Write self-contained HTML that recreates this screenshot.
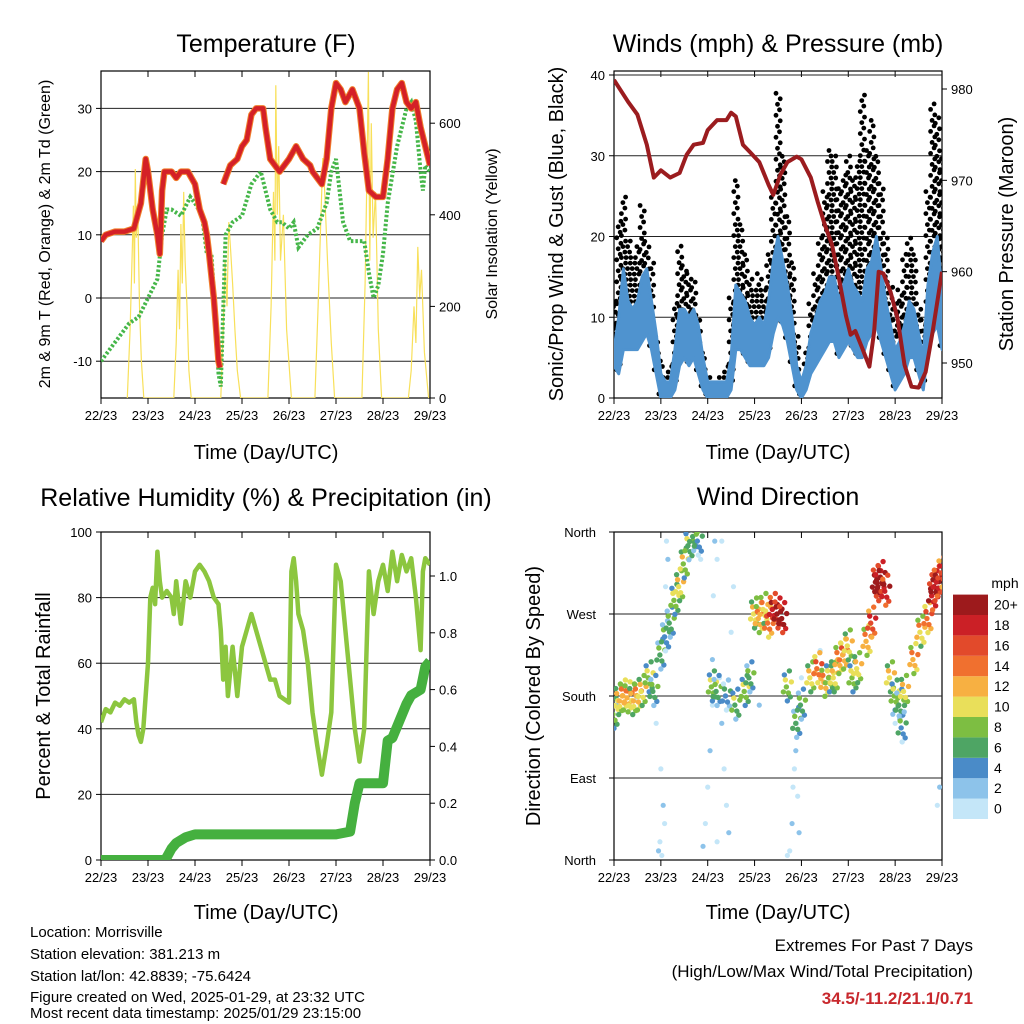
<!DOCTYPE html>
<html><head><meta charset="utf-8"><style>
body{margin:0;background:#fff;}
svg{display:block;font-family:"Liberation Sans",sans-serif;}
</style></head><body>
<svg id="chart" width="1024" height="1024" viewBox="0 0 1024 1024" xmlns="http://www.w3.org/2000/svg">
<defs>
<clipPath id="c1"><rect x="101" y="71" width="329" height="327"/></clipPath>
<clipPath id="c2"><rect x="614" y="71" width="328" height="327"/></clipPath>
<clipPath id="c3"><rect x="101" y="532" width="329" height="328"/></clipPath>
<clipPath id="c4"><rect x="614" y="532" width="328" height="328"/></clipPath>
</defs>
<g id="root"></g>
<g font-size="25" text-anchor="middle" fill="#000">
<text x="266" y="52">Temperature (F)</text>
<text x="778" y="52">Winds (mph) &amp; Pressure (mb)</text>
<text x="266" y="506">Relative Humidity (%) &amp; Precipitation (in)</text>
<text x="778" y="505">Wind Direction</text>
</g>
<g font-size="20" text-anchor="middle">
<text x="266" y="459">Time (Day/UTC)</text>
<text x="778" y="459">Time (Day/UTC)</text>
<text x="266" y="919">Time (Day/UTC)</text>
<text x="778" y="919">Time (Day/UTC)</text>
<text transform="translate(563,234) rotate(-90)">Sonic/Prop Wind &amp; Gust (Blue, Black)</text>
<text transform="translate(1013,234) rotate(-90)">Station Pressure (Maroon)</text>
<text transform="translate(50,696) rotate(-90)">Percent &amp; Total Rainfall</text>
<text transform="translate(540,696) rotate(-90)">Direction (Colored By Speed)</text>
</g>
<g font-size="16" text-anchor="middle">
<text transform="translate(50,234) rotate(-90)">2m &amp; 9m T (Red, Orange) &amp; 2m Td (Green)</text>
<text transform="translate(497,234) rotate(-90)">Solar Insolation (Yellow)</text>
</g>
<g font-size="15">
<text x="30" y="937">Location: Morrisville</text>
<text x="30" y="959">Station elevation: 381.213 m</text>
<text x="30" y="981">Station lat/lon: 42.8839; -75.6424</text>
<text x="30" y="1002">Figure created on Wed, 2025-01-29, at 23:32 UTC</text>
<text x="30" y="1018">Most recent data timestamp: 2025/01/29 23:15:00</text>
</g>
<g text-anchor="end">
<text x="973" y="951" font-size="17">Extremes For Past 7 Days</text>
<text x="973" y="977" font-size="17">(High/Low/Max Wind/Total Precipitation)</text>
<text x="973" y="1004" font-size="17" font-weight="bold" fill="#c8282d">34.5/-11.2/21.1/0.71</text>
</g>
</svg>
<script>
// ---------- Data ----------
const dayLabels = ["22/23","23/23","24/23","25/23","26/23","27/23","28/23","29/23"];
const tempT = [0,0.1,0.3,0.5,0.7,0.85,0.95,1.0,1.1,1.2,1.25,1.3,1.35,1.5,1.6,1.7,1.85,2.0,2.1,2.2,2.25,2.3,2.4,2.45,2.5,2.53];
const tempV = [9,10,10.5,10.5,11,15,22,20,14,10,7,17,20,20,19,20,20,18,14,12,10,7,0,-5,-10,-11];
const tempT2 = [2.6,2.75,2.9,3.0,3.1,3.2,3.3,3.45,3.5,3.6,3.8,4.0,4.15,4.3,4.45,4.5,4.6,4.7,4.8,4.9,5.0,5.1,5.2,5.35,5.5,5.6,5.7,5.85,6.0,6.1,6.2,6.3,6.4,6.5,6.6,6.7,6.8,6.9,7.0];
const tempV2 = [18,21,22,24,25,29,30,30,27,22,20,22,24,22,21,20,19,18,22,30,34,33,31,33,30,23,17,16,16,22,30,33,34,31,30,31,27,24,21];
const dewT = [0,0.3,0.6,0.8,1.0,1.2,1.3,1.4,1.5,1.7,1.9,2.0,2.15,2.25,2.35,2.45,2.5,2.55,2.65,2.8,3.0,3.2,3.4,3.6,3.75,3.85,4.0,4.1,4.2,4.4,4.6,4.8,4.9,5.0,5.15,5.3,5.45,5.6,5.7,5.8,5.9,6.0,6.1,6.3,6.5,6.6,6.7,6.8,6.85,6.9,7.0];
const dewV = [-10,-7,-4,-3,0,3,10,14,14,13,16,15,13,7,7,-5,-12,-14,10,12,13,18,20,14,12,12,11,12,8,10,11,15,20,22,12,9,9,9,4,0,2,7,15,24,30,31,28,20,17,21,20];
const solarT = [0.56,0.62,0.66,0.69,0.71,0.73,0.75,0.78,0.82,0.86,0.91, 1.55,1.6,1.64,1.67,1.7,1.73,1.76,1.79,1.83,1.87,1.92, 2.55,2.6,2.64,2.68,2.72,2.76,2.8,2.85,2.9,2.97, 3.55,3.62,3.67,3.7,3.72,3.75,3.78,3.82,3.88,3.95,4.05, 4.55,4.62,4.68,4.72,4.76,4.82,4.9,4.97, 5.55,5.62,5.66,5.69,5.72,5.75,5.79,5.84,5.9,5.97, 6.54,6.6,6.66,6.7,6.74,6.78,6.82,6.88,6.97];
const solarV = [0,150,300,420,250,500,350,420,200,80,0, 0,120,280,150,380,250,450,300,200,60,0, 0,150,300,200,384,320,250,150,60,0, 0,200,450,300,683,400,550,300,400,150,0, 0,200,400,524,450,300,120,0, 0,250,500,712,300,600,350,450,150,0, 0,60,200,120,330,220,280,100,0];
const windT = [0,0.1,0.2,0.3,0.4,0.5,0.6,0.7,0.8,0.9,1.0,1.1,1.2,1.3,1.4,1.5,1.6,1.7,1.8,1.9,2.0,2.1,2.2,2.3,2.4,2.5,2.6,2.7,2.8,2.9,3.0,3.1,3.2,3.3,3.4,3.5,3.6,3.7,3.8,3.9,4.0,4.1,4.2,4.3,4.4,4.5,4.6,4.7,4.8,4.9,5.0,5.1,5.2,5.3,5.4,5.5,5.6,5.7,5.8,5.9,6.0,6.1,6.2,6.3,6.4,6.5,6.6,6.7,6.8,6.9,7.0];
const windHigh = [6,10,16,12,11,12,15,16,12,8,3,2,2,6,11,11,10,11,9,5,2,2,2,2,2,5,14,13,12,10,9,10,9,12,17,20,17,14,10,4,2,4,8,10,12,13,15,15,12,14,16,14,13,12,16,17,20,16,12,9,6,7,9,12,11,8,5,14,18,20,13];
const windLow = [4,3,6,6,6,6,7,8,6,3,0,0,0,1,4,5,4,5,3,1,0,0,0,0,0,1,6,6,5,4,4,4,4,5,8,10,9,7,4,1,0,1,3,4,5,6,7,7,5,6,7,6,5,5,7,8,9,7,5,3,1,2,3,5,5,3,1,6,8,9,6];
const gustMax = [12,22,25,20,18,19,24,20,17,8,5,3,4,12,19,17,16,15,10,6,3,2,3,3,4,13,27,22,18,15,14,16,14,18,25,38,30,23,17,8,3,6,12,16,20,26,31,30,26,28,30,27,30,38,31,35,30,27,20,14,12,14,18,20,18,12,10,26,37,35,30];
const presT = [0,0.3,0.5,0.7,0.85,1.0,1.2,1.4,1.55,1.7,1.9,2.0,2.2,2.4,2.5,2.6,2.75,2.9,3.1,3.3,3.4,3.55,3.7,3.9,4.0,4.2,4.35,4.5,4.65,4.8,4.95,5.05,5.15,5.3,5.45,5.55,5.65,5.75,5.9,6.05,6.2,6.35,6.5,6.65,6.8,7.0];
const presV = [981,978.6,977.2,973.9,970.3,971.1,970.3,970.8,972.8,973.9,974.1,975.5,976.6,976.6,977.4,977,973.9,973.1,972,969.5,968.4,970.6,972,972.6,972.3,970.3,967.6,965.1,963,959.3,955.2,953.1,953.5,951.6,949.6,953.4,960,959.8,957.8,954.9,949.8,947.4,947.3,949,953.4,960];
const rhT = [0,0.1,0.2,0.3,0.4,0.5,0.6,0.7,0.75,0.8,0.85,0.9,1.0,1.05,1.1,1.15,1.2,1.25,1.3,1.4,1.5,1.55,1.6,1.7,1.8,1.9,2.0,2.1,2.2,2.3,2.4,2.5,2.55,2.6,2.65,2.7,2.8,2.9,3.0,3.1,3.2,3.3,3.4,3.5,3.6,3.7,3.8,4.0,4.05,4.1,4.15,4.2,4.3,4.4,4.5,4.6,4.7,4.8,4.9,5.0,5.1,5.2,5.3,5.4,5.5,5.6,5.7,5.8,5.9,6.0,6.1,6.2,6.3,6.4,6.5,6.6,6.7,6.8,6.85,6.9,7.0];
const rhV = [42,46,45,48,47,49,48,49,42,38,36,40,60,80,83,78,94,85,80,82,80,75,85,72,85,80,88,90,88,85,80,78,70,55,65,50,65,50,65,70,75,70,65,60,55,55,50,48,88,92,85,75,70,60,45,35,26,35,45,90,85,70,55,40,30,40,88,75,85,90,82,94,85,93,88,92,80,64,88,92,90];
const precipT = [0,1.35,1.4,1.5,1.6,1.8,2.0,3.0,4.0,5.0,5.3,5.4,5.5,6.0,6.1,6.2,6.3,6.5,6.6,6.8,6.9,7.0];
const precipV = [0,0,0.01,0.04,0.06,0.08,0.09,0.09,0.09,0.09,0.10,0.2,0.27,0.27,0.42,0.43,0.47,0.55,0.58,0.60,0.68,0.70];
const dirT = [0,0.1,0.2,0.3,0.4,0.5,0.6,0.75,0.85,1.0,1.1,1.2,1.3,1.4,1.5,1.6,1.7,1.8,2.1,2.2,2.4,2.6,2.8,2.9,3.0,3.1,3.2,3.3,3.4,3.5,3.6,3.7,3.9,4.0,4.2,4.35,4.5,4.6,4.7,4.8,4.9,5.0,5.1,5.2,5.4,5.5,5.6,5.65,5.7,5.8,5.9,6.0,6.1,6.15,6.2,6.4,6.55,6.7,6.8,6.85,6.9,7.0];
const dirV = [160,175,180,178,175,180,185,200,185,225,245,260,285,300,325,345,355,350,190,185,180,170,185,200,270,265,275,260,275,270,265,190,150,170,200,210,195,200,200,220,225,235,200,210,240,260,305,300,310,295,200,180,170,145,185,220,250,265,290,300,305,315];
const dirS = [8,10,12,12,10,12,10,8,6,6,5,6,8,10,9,7,6,5,8,6,4,7,8,6,10,12,11,14,18,20,20,8,6,6,10,14,12,8,10,12,13,10,8,10,12,16,20,21,20,18,10,8,6,5,10,12,11,14,19,20,18,16];
const calmT = [0.05,0.45,0.9,0.95,0.98,1.02,1.05,1.1,1.12,1.15,1.18,1.85,1.9,1.95,2.0,2.05,2.1,2.12,2.15,2.2,2.25,2.3,2.35,2.4,2.45,2.5,2.55,3.1,3.7,3.75,3.8,3.82,3.85,3.88,3.9,3.92,3.95,4.0,4.4,5.95,6.0,6.9,6.95,1.0,1.08,2.1,2.2,2.3];
const calmD = [170,175,150,10,20,5,60,300,350,330,250,330,15,40,80,120,170,290,350,330,200,150,100,60,30,250,300,170,5,10,40,80,100,120,150,70,30,200,230,160,150,60,80,100,40,220,20,350];
const cbLabels = ["0","2","4","6","8","10","12","14","16","18","20+"];
const cbColors = ["#c4e6f8","#8dc3ea","#4a8bc8","#4ea564","#7dbe42","#e9df5a","#f7b042","#f0702f","#e24a2b","#cb2026","#9d1a1c"];

// ---------- helpers ----------
const NS="http://www.w3.org/2000/svg";
const root=document.getElementById('root');
function mk(tag,attrs,name,parent){
  const el=document.createElementNS(NS,tag);
  for(const k in attrs) el.setAttribute(k,attrs[k]);
  
  
  (parent||root).appendChild(el);
  return el;
}
function txt(x,y,s,name,attrs,parent){
  const t=mk('text',Object.assign({x:x,y:y,'font-size':13},attrs||{}),name,parent);
  t.textContent=s; return t;
}
function xScale(x0,x1){return d=>x0+d*(x1-x0)/7;}
function pathOf(ts,vs,xf,yf){return ts.map((t,i)=>(i?'L':'M')+xf(t).toFixed(1)+','+yf(vs[i]).toFixed(1)).join('');}

function frame(x0,y0,x1,y1,name,xf){
  const g=mk('g',{},name+'-axes');
  mk('rect',{x:x0,y:y0,width:x1-x0,height:y1-y0,fill:'none',stroke:'#000','stroke-width':1.2},name+'-frame',g);
  dayLabels.forEach((l,i)=>{
    const x=xf(i);
    mk('line',{x1:x,x2:x,y1:y1,y2:y1+6,stroke:'#000'},name+'-xtick',g);
    mk('line',{x1:x,x2:x,y1:y0,y2:y0+6,stroke:'#000'},name+'-xtick-top',g);
    txt(x,y1+22,l,name+'-xtick-label',{'text-anchor':'middle'},g);
  });
  return g;
}
function hgrid(x0,x1,y,name,g){mk('line',{x1:x0,x2:x1,y1:y,y2:y,stroke:'#222','stroke-width':1},name,g);}

// ---------- Panel 1: Temperature ----------
(function(){
  const x0=101,x1=430,y0=71,y1=398,xf=xScale(x0,x1);
  const yT=v=>298-v*6.32, yS=v=>398-v*0.458;
  const g=frame(x0,y0,x1,y1,'temp',xf);
  [-10,0,10,20,30].forEach(v=>{hgrid(x0,x1,yT(v),'temp-gridline',g);
    mk('line',{x1:x0-5,x2:x0,y1:yT(v),y2:yT(v),stroke:'#000'},'temp-ytick',g);
    txt(x0-9,yT(v)+5,String(v),'temp-ytick-label',{'text-anchor':'end'},g);});
  [0,200,400,600].forEach(v=>{mk('line',{x1:x1,x2:x1+5,y1:yS(v),y2:yS(v),stroke:'#000'},'solar-ytick',g);
    txt(x1+9,yS(v)+5,String(v),'solar-ytick-label',{},g);});
  const c=mk('g',{'clip-path':'url(#c1)'},'temp-plot');
  mk('path',{d:pathOf(solarT,solarV,xf,yS),fill:'none',stroke:'#f8e05a','stroke-width':1.2},'solar-line',c);
  mk('path',{d:pathOf(dewT,dewV,xf,yT),fill:'none',stroke:'#45b649','stroke-width':4,'stroke-dasharray':'2.5 2'},'dewpoint-line',c);
  [[tempT,tempV],[tempT2,tempV2]].forEach(([t,v])=>{
    mk('path',{d:pathOf(t,v,xf,yT),fill:'none',stroke:'#f07f2c','stroke-width':6.5,'stroke-linejoin':'round'},'temp-9m-line',c);
    mk('path',{d:pathOf(t,v,xf,yT),fill:'none',stroke:'#d42027','stroke-width':4.5,'stroke-linejoin':'round'},'temp-2m-line',c);
  });
})();

// ---------- Panel 2: Winds ----------
(function(){
  const x0=614,x1=942,y0=71,y1=398,xf=xScale(x0,x1);
  const yW=v=>398-v*8.075, yP=p=>89+(980-p)*9.133;
  const g=frame(x0,y0,x1,y1,'winds',xf);
  [0,10,20,30,40].forEach(v=>{if(v>0)hgrid(x0,x1,yW(v),'winds-gridline',g);
    mk('line',{x1:x0-5,x2:x0,y1:yW(v),y2:yW(v),stroke:'#000'},'winds-ytick',g);
    txt(x0-9,yW(v)+5,String(v),'winds-ytick-label',{'text-anchor':'end'},g);});
  [950,960,970,980].forEach(v=>{mk('line',{x1:x1,x2:x1+5,y1:yP(v),y2:yP(v),stroke:'#000'},'pressure-ytick',g);
    txt(x1+9,yP(v)+5,String(v),'pressure-ytick-label',{},g);});
  const c=mk('g',{'clip-path':'url(#c2)'},'winds-plot');
  const dots=mk('g',{fill:'#000'},'gust-points',c);
  windT.forEach((t,i)=>{
    const x=xf(t), ya=yW(windLow[i])-4, yb=yW(gustMax[i]);
    let k=0;
    for(let y=ya; y>=yb-0.1; y-=5.5){
      const dx=[-2,1.5,-0.5,2.2][k%4]; k++;
      mk('circle',{cx:(x+dx).toFixed(1),cy:y.toFixed(1),r:2.4},'gust-point',dots);
    }
  });
  const top=windT.map((t,i)=>xf(t).toFixed(1)+','+yW(windHigh[i]).toFixed(1));
  const bot=windT.map((t,i)=>xf(t).toFixed(1)+','+yW(windLow[i]).toFixed(1)).reverse();
  mk('polygon',{points:top.concat(bot).join(' '),fill:'#4f93cf',stroke:'#4f93cf','stroke-width':3,'stroke-linejoin':'round'},'sustained-wind-band',c);
  mk('path',{d:pathOf(presT,presV,xf,yP),fill:'none',stroke:'#9b1c1f','stroke-width':4,'stroke-linejoin':'round'},'pressure-line',c);
})();

// ---------- Panel 3: RH & Precip ----------
(function(){
  const x0=101,x1=430,y0=532,y1=860,xf=xScale(x0,x1);
  const yR=v=>860-v*3.28, yPr=v=>860-v*284;
  const g=frame(x0,y0,x1,y1,'rh',xf);
  [0,20,40,60,80,100].forEach(v=>{if(v>0&&v<100)hgrid(x0,x1,yR(v),'rh-gridline',g);
    mk('line',{x1:x0-5,x2:x0,y1:yR(v),y2:yR(v),stroke:'#000'},'rh-ytick',g);
    txt(x0-9,yR(v)+5,String(v),'rh-ytick-label',{'text-anchor':'end'},g);});
  ["0.0","0.2","0.4","0.6","0.8","1.0"].forEach(s=>{const y=yPr(parseFloat(s));
    mk('line',{x1:x1,x2:x1+5,y1:y,y2:y,stroke:'#000'},'precip-ytick',g);
    txt(x1+9,y+5,s,'precip-ytick-label',{},g);});
  const c=mk('g',{'clip-path':'url(#c3)'},'rh-plot');
  mk('path',{d:pathOf(rhT,rhV,xf,yR),fill:'none',stroke:'#8cc63f','stroke-width':4.5,'stroke-linejoin':'round'},'rh-line',c);
  mk('path',{d:pathOf(precipT,precipV,xf,yPr),fill:'none',stroke:'#45b03f','stroke-width':10,'stroke-linejoin':'round'},'precip-line',c);
})();

// ---------- Panel 4: Wind Direction ----------
(function(){
  const x0=614,x1=942,y0=532,y1=860,xf=xScale(x0,x1);
  const yD=d=>860-d*0.9111;
  const g=frame(x0,y0,x1,y1,'dir',xf);
  [["North",0],["East",90],["South",180],["West",270],["North",360]].forEach(([l,v])=>{
    if(v>0&&v<360)hgrid(x0,x1,yD(v),'dir-gridline',g);
    mk('line',{x1:x0-5,x2:x0,y1:yD(v),y2:yD(v),stroke:'#000'},'dir-ytick',g);
    txt(x0-18,yD(v)+5,l,'dir-ytick-label',{'text-anchor':'end'},g);});
  const c=mk('g',{'clip-path':'url(#c4)'},'dir-plot');
  const col=s=>cbColors[Math.min(10,Math.max(0,Math.floor(s/2)))];
  calmT.forEach((t,i)=>{mk('circle',{cx:xf(t),cy:yD(calmD[i]),r:2.6,fill:cbColors[i%3===0?1:0]},'calm-point',c);});
  dirT.forEach((t,i)=>{
    const x=xf(t),y=yD(dirV[i]);
    [[-3,-12,-3],[3,10,-1],[-1,0,0],[4,-5,2],[0,14,-4],[-4,5,1],[2,-16,-2],[-2,-7,3],[1,6,0]].forEach(([dx,dy,ds])=>{
      mk('circle',{cx:x+dx,cy:y+dy,r:2.7,fill:col(dirS[i]+ds)},'direction-point',c);
    });
  });
  const cb=mk('g',{},'speed-colorbar');
  txt(1005,588,'mph','colorbar-title',{'text-anchor':'middle','font-size':14},cb);
  cbColors.forEach((cc,i)=>{
    const y=819-(i+1)*20.4;
    mk('rect',{x:953,y:y,width:35,height:20.4,fill:cc},'colorbar-box',cb);
    txt(994,y+15,cbLabels[i],'colorbar-label',{'font-size':14},cb);
  });
})();
</script>
</body></html>
